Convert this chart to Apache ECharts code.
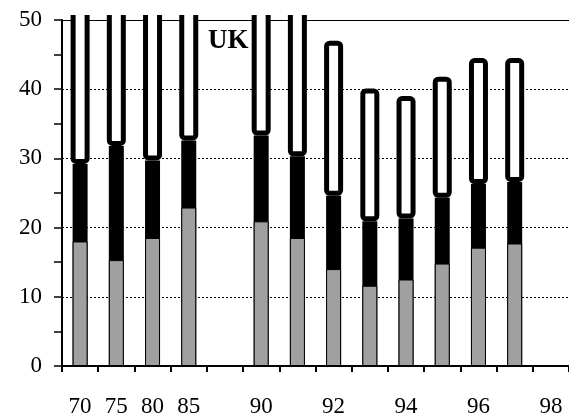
<!DOCTYPE html>
<html>
<head>
<meta charset="utf-8">
<script src="https://cdn.jsdelivr.net/npm/echarts@6/dist/echarts.min.js"></script>
<style>
  html, body { margin: 0; padding: 0; background: #fff; }
  #chart { width: 569px; height: 418px; }
</style>
</head>
<body>
<div id="chart"></div>
<script>
// categories (the blank one is the gap between 85 and 90)
var years = ['70', '75', '80', '85', '', '90', '91', '92', '93', '94', '95', '96', '97', '98'];
var tickLabels = ['70', '75', '80', '85', '', '90', '', '92', '', '94', '', '96', '', '98'];

// top of each band
var greyTop = [18, 15.3, 18.5, 22.9, null, 20.9, 18.5, 14, 11.6, 12.5, 14.8, 17.1, 17.7, null];
var blackTop = [29.2, 31.8, 29.7, 32.6, null, 33.3, 30.3, 24.6, 20.9, 21.3, 24.3, 26.3, 26.6, null];
// first six run off the top of the chart, so 60 is a guess
var whiteTop = [60, 60, 60, 60, null, 60, 60, 47.0, 40.1, 39.0, 41.8, 44.5, 44.5, null];

var whiteLen = whiteTop.map(function (v, i) {
  return v == null ? null : +(v - blackTop[i]).toFixed(1);
});

var font = 'Liberation Serif';

var myChart = echarts.init(document.getElementById('chart'));

var option = {
  animation: false,
  backgroundColor: '#fff',
  grid: { left: 62, right: -6, top: 20, bottom: 52 },
  xAxis: [
    {
      type: 'category',
      data: years,
      axisLine: { lineStyle: { color: '#000', width: 2 } },
      axisTick: { show: true, length: 6, lineStyle: { color: '#000', width: 2 } },
      axisLabel: {
        interval: 0,
        margin: 29,
        color: '#000',
        fontFamily: font,
        fontSize: 23,
        formatter: function (v, i) { return tickLabels[i]; }
      }
    },
    {
      // only used for the solid line at 50 and the white caps
      type: 'category',
      position: 'top',
      data: years,
      axisLine: { lineStyle: { color: '#000', width: 1 } },
      axisTick: { show: false },
      axisLabel: { show: false }
    }
  ],
  yAxis: {
    type: 'value',
    min: 0,
    max: 50,
    interval: 10,
    axisLine: { show: true, lineStyle: { color: '#000', width: 2 } },
    axisTick: { show: true, length: 8, lineStyle: { color: '#000', width: 1.5 } },
    minorTick: { show: true, splitNumber: 2, length: 8, lineStyle: { color: '#000', width: 1.5 } },
    axisLabel: { margin: 20, color: '#000', fontFamily: font, fontSize: 23 },
    splitLine: { show: true, lineStyle: { color: '#000', width: 1, type: [2, 2] } }
  },
  series: [
    {
      type: 'bar',
      barWidth: 15,
      barGap: '-100%',
      data: blackTop,
      itemStyle: { color: '#000' }
    },
    {
      type: 'bar',
      barWidth: 15,
      barGap: '-100%',
      data: greyTop,
      itemStyle: { color: '#a0a0a0', borderColor: '#000', borderWidth: 1 }
    },
    {
      type: 'bar',
      xAxisIndex: 1,
      stack: 'cap',
      barWidth: 19,
      silent: true,
      data: blackTop,
      itemStyle: { color: 'rgba(0,0,0,0)' }
    },
    {
      type: 'bar',
      xAxisIndex: 1,
      stack: 'cap',
      barWidth: 19,
      clip: false,
      data: whiteLen,
      itemStyle: { color: '#fff', borderColor: '#000', borderWidth: 5, borderRadius: 3 }
    }
  ],
  graphic: [
    // hides the bars that run past the top
    {
      type: 'rect',
      z: 100,
      shape: { x: 64, y: 0, width: 505, height: 15 },
      style: { fill: '#fff' }
    },
    {
      type: 'text',
      z: 101,
      x: 208,
      y: 41.5,
      style: {
        text: 'UK',
        fill: '#000',
        font: 'bold 27px "Liberation Serif"',
        textVerticalAlign: 'middle'
      }
    }
  ]
};

option && myChart.setOption(option);
</script>
</body>
</html>
